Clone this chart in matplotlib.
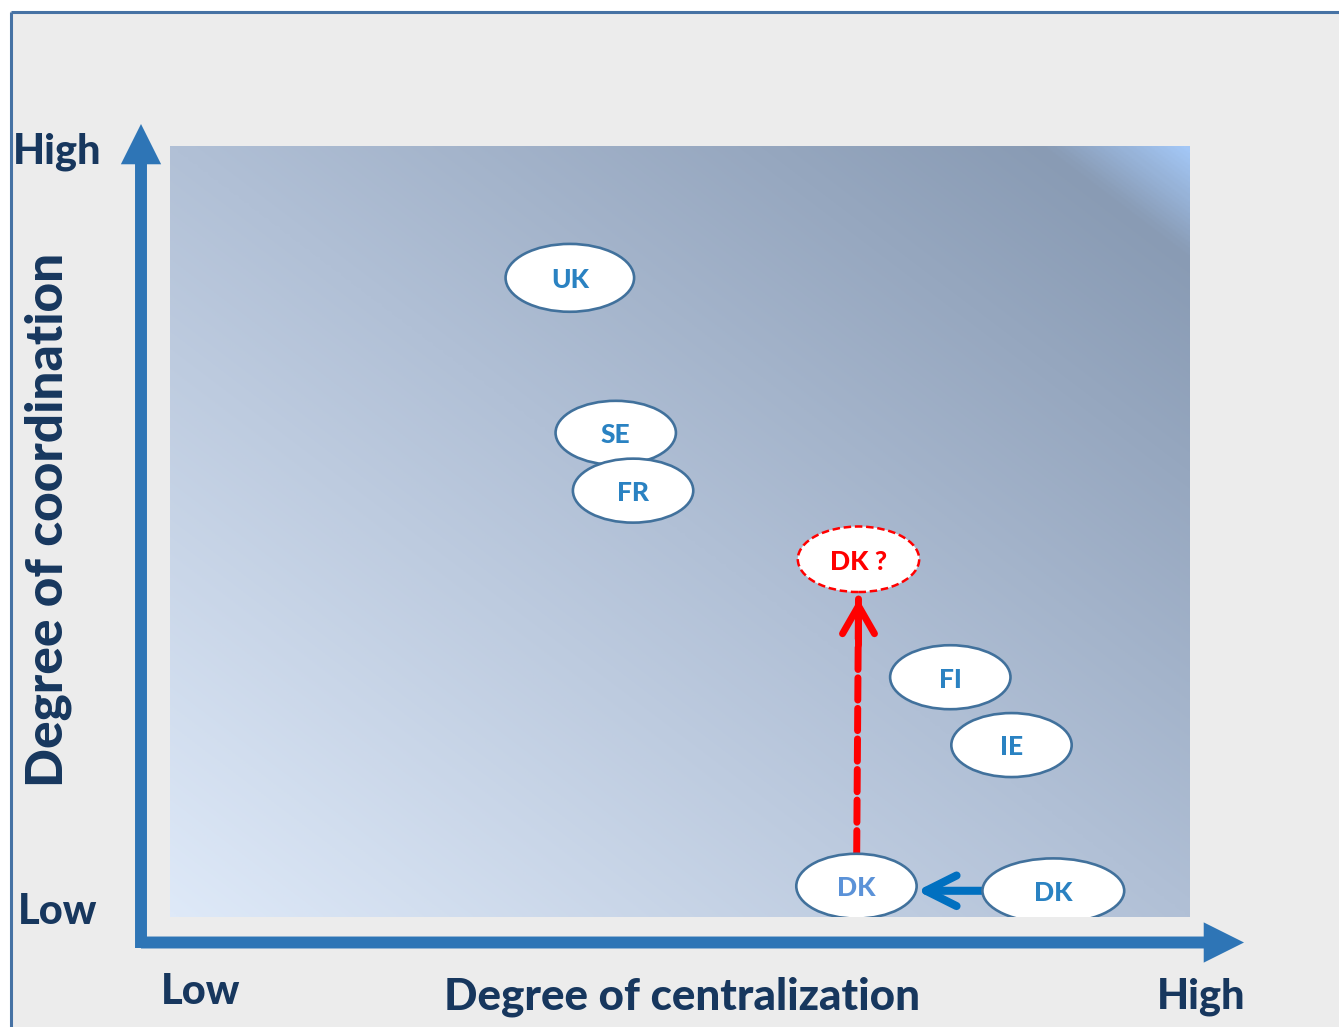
import numpy as np
import matplotlib.pyplot as plt
from matplotlib.colors import LinearSegmentedColormap
from matplotlib.patches import Ellipse, Rectangle

plt.rcParams['font.family'] = ['Lato', 'DejaVu Sans']

# positions on a 0-10 scale (x = centralization, y = coordination)
countries = ['UK', 'SE', 'FR', 'FI', 'IE', 'DK', 'DK']
centralization = [3.92, 4.37, 4.54, 7.65, 8.25, 6.73, 8.66]
coordination = [8.29, 6.28, 5.53, 3.11, 2.23, 0.40, 0.34]
# DK moved from the right (index 6) to index 5, maybe up to the "DK ?" spot
future_label = 'DK ?'
future_centralization = 6.75
future_coordination = 4.64

x_title = 'Degree of centralization'
y_title = 'Degree of coordination'
low_high = ['Low', 'High']

# ellipse sizes (data units) and label colours
ell_w = [1.26, 1.18, 1.18, 1.18, 1.18, 1.18, 1.39]
ell_h = [0.88, 0.83, 0.83, 0.83, 0.83, 0.84, 0.84]
lab_col = ['#2a82c2'] * 5 + ['#5b92d8', '#2a82c2']

navy = '#17375e'
axis_blue = '#2e75b6'
W = 'black'

fig = plt.figure(figsize=(13.39, 10.27), dpi=100)

# background layer in pixel units
bg = fig.add_axes([0, 0, 1, 1])
bg.set_xlim(0, 1339)
bg.set_ylim(1027, 0)
bg.axis('off')
bg.add_patch(Rectangle((10, 11), 1329, 1016, facecolor='#ececec', edgecolor='none'))
bg.plot([10.5, 10.5], [1027, 11.5], color='#4672a4', lw=2.2, solid_capstyle='butt')
bg.plot([10.5, 1339], [11.5, 11.5], color='#4672a4', lw=2.2, solid_capstyle='butt')

# axis arrows
arrow = dict(arrowstyle='simple,head_length=2.9,head_width=2.9,tail_width=0.86',
             color=axis_blue, lw=0, shrinkA=0, shrinkB=0, mutation_scale=10)
bg.annotate('', xy=(141, 124), xytext=(141, 948), arrowprops=arrow)
bg.annotate('', xy=(1244, 942.5), xytext=(141, 942.5), arrowprops=arrow)

bg.text(57, 152, low_high[1], color=navy, fontsize=30, fontweight=W, ha='center', va='center')
bg.text(58, 912, low_high[0], color=navy, fontsize=30, fontweight=W, ha='center', va='center')
bg.text(48, 520, y_title, color=navy, fontsize=37, fontweight=W, ha='center', va='center',
        rotation=90)
bg.text(201, 992, low_high[0], color=navy, fontsize=30, fontweight=W, ha='center', va='center')
bg.text(682, 997, x_title, color=navy, fontsize=31.7, fontweight=W, ha='center', va='center')
bg.text(1201, 997, low_high[1], color=navy, fontsize=30, fontweight=W, ha='center', va='center')

# gradient panel
ax = fig.add_axes([170 / 1339, (1027 - 917) / 1027, 1020 / 1339, 771 / 1027])
cmap = LinearSegmentedColormap.from_list('panel', [
    (0.0, '#dee9f8'), (0.5, '#b1c0d6'), (0.93, '#899bb4'), (1.0, '#a3c7f6')])
u, v = np.meshgrid(np.linspace(0, 1, 400), np.linspace(0, 1, 400))
ax.imshow((u + v) / 2, origin='lower', extent=(0, 10, 0, 10), aspect='auto',
          cmap=cmap, vmin=0, vmax=1, interpolation='bilinear')
ax.set_xlim(0, 10)
ax.set_ylim(0, 10)
ax.axis('off')

ells = []
for i, name in enumerate(countries):
    e = Ellipse((centralization[i], coordination[i]), ell_w[i], ell_h[i],
                facecolor='white', edgecolor='#41719c', lw=1.9, zorder=3)
    ax.add_patch(e)
    ells.append(e)
    ax.text(centralization[i], coordination[i] - 0.03, name, color=lab_col[i], fontsize=19,
            fontweight=W, ha='center', va='center', zorder=4)

fut = Ellipse((future_centralization, future_coordination), 1.19, 0.85,
              facecolor='white', edgecolor='#ff0000', lw=1.8, linestyle=(0, (3, 1.5)), zorder=3)
ax.add_patch(fut)
ax.text(future_centralization, future_coordination - 0.03, future_label, color='#ff0000',
        fontsize=19, fontweight=W, ha='center', va='center', zorder=4)

# blue arrow: old DK -> current DK
ax.annotate('', xy=(centralization[5], coordination[6]),
            xytext=(centralization[6], coordination[6]),
            arrowprops=dict(arrowstyle='->,head_length=2.2,head_width=1.1', color='#0070c0',
                            lw=5.8, capstyle='round', joinstyle='round',
                            patchA=ells[6], patchB=ells[5], shrinkA=0, shrinkB=0,
                            mutation_scale=10), zorder=2)

# red dashed arrow: current DK -> DK ?
tip_y = future_coordination - 0.85 / 2 - 0.09
ax.annotate('', xy=(future_centralization, tip_y),
            xytext=(centralization[5], coordination[5]),
            arrowprops=dict(arrowstyle='-', color='#ff0000', lw=5, linestyle=(0, (3.2, 1.2)),
                            patchA=ells[5], shrinkA=0, shrinkB=0), zorder=2)
ax.annotate('', xy=(future_centralization, tip_y),
            xytext=(future_centralization, tip_y - 0.6),
            arrowprops=dict(arrowstyle='->,head_length=2.0,head_width=1.15', color='#ff0000',
                            lw=5, capstyle='round', joinstyle='round',
                            shrinkA=0, shrinkB=0, mutation_scale=10), zorder=2)

fig.savefig('out.png', dpi=100)
